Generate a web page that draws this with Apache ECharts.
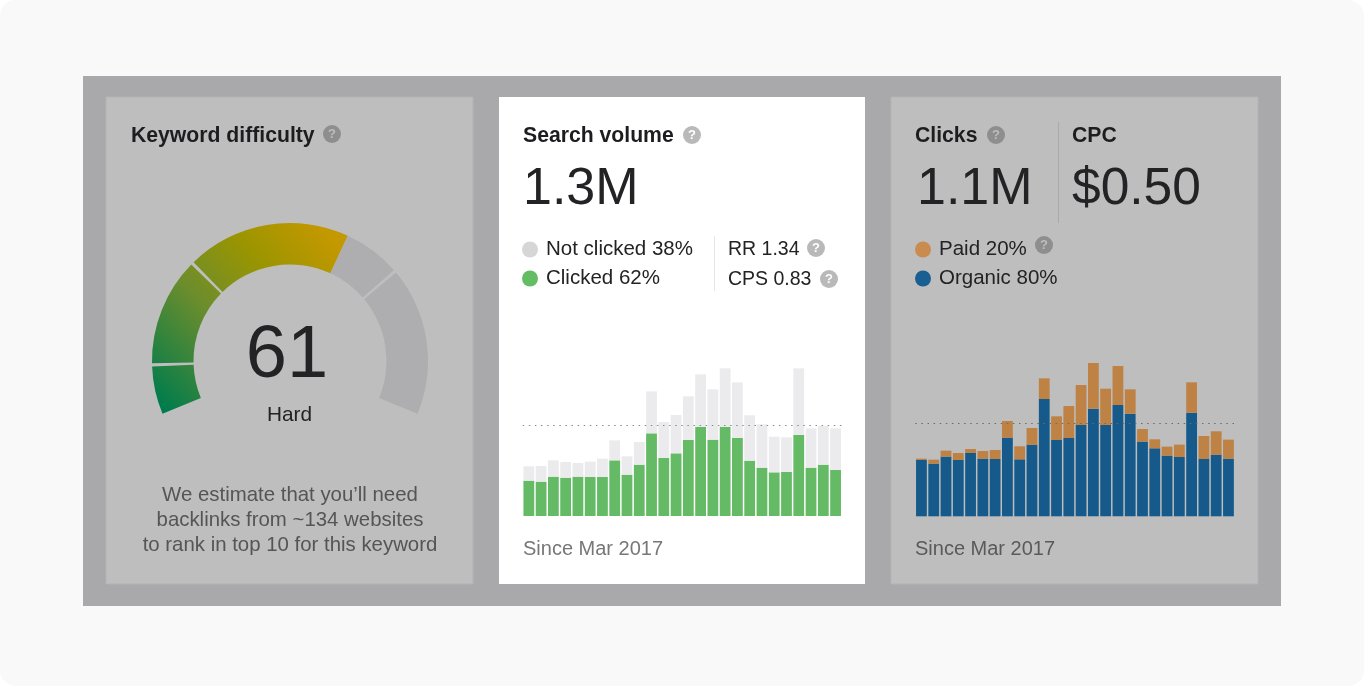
<!DOCTYPE html>
<html><head><meta charset="utf-8">
<style>html,body{margin:0;padding:0;background:#fff}#c{width:1364px;height:686px}</style>
<script src="https://cdn.jsdelivr.net/npm/echarts@6/dist/echarts.min.js"></script>
</head><body><div id="c"></div>
<script>
const months = ['1','2','3','4','5','6','7','8','9','10','11','12','13','14','15','16','17','18','19','20','21','22','23','24','25','26'];
const clicked = [106,103,118,115,118,117,117,167,124,154,248,174,188,228,267,229,267,234,166,145,131,132,243,145,154,138];
const notClicked = [43,47,49,47,41,46,55,60,55,68,126,108,115,131,158,151,176,167,136,130,107,104,200,118,116,125];
const organic = [169,158,179,169,190,173,172,236,171,215,352,229,235,274,323,274,334,308,224,204,182,178,311,172,185,173];
const paid = [4,12,18,21,12,23,27,50,39,50,62,71,96,120,137,109,117,73,38,27,27,37,91,69,70,57];
const volumeRef = 271;
const clicksRef = 280;
const gaugeValues = [9.0,0.6,20.1,0.6,30.7,10.7,0.6,27.7,60];
const gaugeKinds = ['fill','gap','fill','gap','fill','rest','gap','rest','gap'];

const FONT = '"Liberation Sans", Arial, sans-serif';
const chart = echarts.init(document.getElementById('c'), null, {renderer:'canvas'});
const dark = '#232325';
const fillGrad = new echarts.graphic.LinearGradient(170,415,345,255,[
  {offset:0,color:'#007c4c'},{offset:0.42,color:'#6d8d2c'},{offset:0.72,color:'#9b9500'},{offset:1,color:'#c39800'}],true);
const kindColor = {fill:fillGrad, rest:'#aeaeb1', gap:'transparent'};

function rect(x,y,w,h,fill,r,extra){return Object.assign({type:'rect',z:-10,silent:true,shape:{x,y,width:w,height:h,r:r||0},style:{fill}},extra||{});}
function txt(t,x,y,size,color,weight,align){return {type:'text',z:50,silent:true,x,y,style:{text:t,font:(weight||'normal')+' '+size+'px '+FONT,fill:color,textAlign:align||'left',textVerticalAlign:'middle'}};}
function q(x,y,bg,fg){return [{type:'circle',z:50,silent:true,shape:{cx:x,cy:y,r:9},style:{fill:bg}},
  {type:'text',z:51,silent:true,x,y:y+0.5,style:{text:'?',font:'bold 13px '+FONT,fill:fg,textAlign:'center',textVerticalAlign:'middle'}}];}

const cardGrey='#bebebe';
const elements = [
  rect(0,0,1364,686,'#f9f9f9',16),
  rect(83,76,1198,530,'#a9a9ab'),
  rect(106,97,367,487,cardGrey,0,{style:{fill:cardGrey,stroke:'#b3b3b3',lineWidth:1}}),
  rect(499,97,366,487,'#ffffff'),
  rect(891,97,367,487,cardGrey,0,{style:{fill:cardGrey,stroke:'#b3b3b3',lineWidth:1}}),
  rect(1058,122,1,101,'#aaaaaa'),
  rect(714,236,1,55,'#e6e6e6'),
  txt('Keyword difficulty',131,136,21.2,'#1d1d1f','bold'),
  ...q(332,134,'#8e8e8e','#bdbdbd'),
  txt('61',287,357,74,dark,'normal','center'),
  txt('Hard',289.5,415,20.8,dark,'normal','center'),
  txt('We estimate that you\u2019ll need',290,495.5,20.4,'#555555','normal','center'),
  txt('backlinks from ~134 websites',290,520.5,20.4,'#555555','normal','center'),
  txt('to rank in top 10 for this keyword',290,545,20.4,'#555555','normal','center'),
  txt('Search volume',523,136,21.2,'#1d1d1f','bold'),
  ...q(692,135,'#b9b9b9','#ffffff'),
  txt('1.3M',523,189.5,52,dark),
  txt('RR 1.34',728,250,19.5,dark),
  ...q(816,248,'#b9b9b9','#ffffff'),
  txt('CPS 0.83',728,280,19.5,dark),
  ...q(829,279,'#b9b9b9','#ffffff'),
  txt('Since Mar 2017',523,549,20,'#777777'),
  txt('Clicks',915,136,21.2,'#1d1d1f','bold'),
  ...q(996,135,'#8e8e8e','#bdbdbd'),
  txt('CPC',1072,136,21.2,'#1d1d1f','bold'),
  txt('1.1M',917,189.5,52,dark),
  txt('$0.50',1072,189.5,51.5,dark),
  ...q(1044,245,'#8e8e8e','#bdbdbd'),
  txt('Since Mar 2017',915,549,20,'#5a5a5a')
];

function refLine(v,color){return {silent:true,symbol:'none',animation:false,label:{show:false},
  lineStyle:{type:[1.5,4.6],color,width:1},data:[{yAxis:v}]};}
const barBase={type:'bar',barWidth:10.8,animation:false,silent:true};
const legendBase={orient:'vertical',selectedMode:false,icon:'circle',padding:0,itemWidth:16,itemHeight:16,itemGap:8,
  textStyle:{fontFamily:FONT,fontSize:20.5,color:dark,padding:[0,0,0,3]}};

chart.setOption({
  animation:false,
  graphic:{elements},
  tooltip:{show:false},
  legend:[
    Object.assign({},legendBase,{left:522,top:239,data:[
      {name:'Not clicked 38%',itemStyle:{color:'#d6d6d6'}},{name:'Clicked 62%',itemStyle:{color:'#62bd63'}}]}),
    Object.assign({},legendBase,{left:915,top:239,data:[
      {name:'Paid 20%',itemStyle:{color:'#c98b4e'}},{name:'Organic 80%',itemStyle:{color:'#1a5f92'}}]})
  ],
  grid:[
    {left:522.7,top:366,width:319,height:150},
    {left:915.3,top:355,width:319.3,height:161.3}
  ],
  xAxis:[
    {type:'category',gridIndex:0,data:months,show:false},
    {type:'category',gridIndex:1,data:months,show:false}
  ],
  yAxis:[
    {type:'value',gridIndex:0,min:0,max:450,show:false},
    {type:'value',gridIndex:1,min:0,max:484,show:false}
  ],
  series:[
    Object.assign({},barBase,{name:'Clicked 62%',xAxisIndex:0,yAxisIndex:0,stack:'v',data:clicked,itemStyle:{color:'#65bb65'}}),
    Object.assign({},barBase,{name:'Not clicked 38%',xAxisIndex:0,yAxisIndex:0,stack:'v',data:notClicked,itemStyle:{color:'#ebebed'},markLine:refLine(volumeRef,'#8a8a8a')}),
    Object.assign({},barBase,{name:'Organic 80%',xAxisIndex:1,yAxisIndex:1,stack:'c',data:organic,itemStyle:{color:'#165a8b'}}),
    Object.assign({},barBase,{name:'Paid 20%',xAxisIndex:1,yAxisIndex:1,stack:'c',data:paid,itemStyle:{color:'#bd8244'},markLine:refLine(clicksRef,'#6a6a6a')}),
    {type:'pie',center:[290,361],radius:[96.5,138],startAngle:202.5,clockwise:true,silent:true,animation:false,
     label:{show:false},labelLine:{show:false},emphasis:{disabled:true},avoidLabelOverlap:false,
     data:gaugeValues.map((v,i)=>({value:v,itemStyle:{color:kindColor[gaugeKinds[i]]}}))}
  ]
});
</script></body></html>
